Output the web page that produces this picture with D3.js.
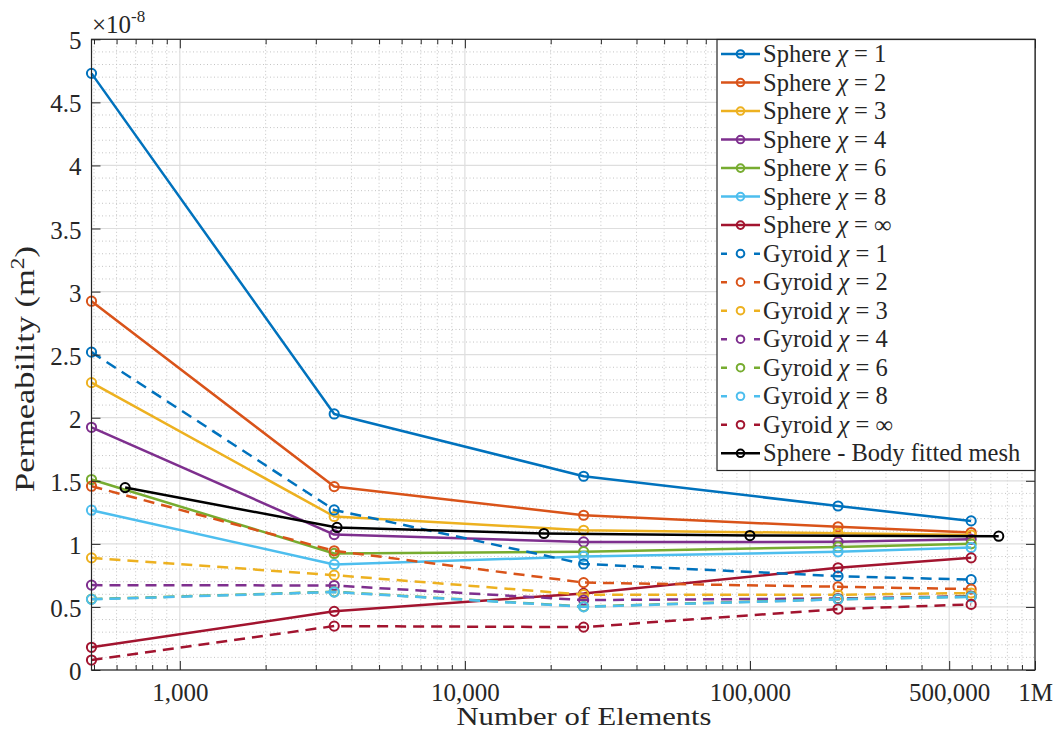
<!DOCTYPE html>
<html>
<head>
<meta charset="utf-8">
<script src="https://cdn.jsdelivr.net/npm/d3@7"></script>
<style>
  html, body { margin: 0; padding: 0; background: #fff; }
  svg { display: block; }
  svg text { font-family: "Liberation Serif", "Times New Roman", serif; }
</style>
</head>
<body>
<svg id="chart" width="1058" height="731"></svg>
<script>
// Mesh sizes (number of elements) for the immersed runs and the body-fitted run
const elementsImmersed = [490, 3480, 26100, 203700, 597000];
const elementsBodyFitted = [643, 3560, 18940, 100000, 746000];

// Permeability values (×1e-8 m²)
const sphereChi1   = [4.73, 2.03, 1.536, 1.30, 1.182];
const sphereChi2   = [2.924, 1.454, 1.227, 1.135, 1.09];
const sphereChi3   = [2.278, 1.217, 1.108, 1.084, 1.07];
const sphereChi4   = [1.924, 1.074, 1.015, 1.016, 1.036];
const sphereChi6   = [1.51, 0.924, 0.938, 0.976, 1.0];
const sphereChi8   = [1.267, 0.837, 0.9, 0.937, 0.971];
const sphereChiInf = [0.18, 0.465, 0.607, 0.81, 0.889];
const gyroidChi1   = [2.52, 1.269, 0.841, 0.744, 0.716];
const gyroidChi2   = [1.457, 0.945, 0.693, 0.66, 0.641];
const gyroidChi3   = [0.889, 0.752, 0.597, 0.596, 0.61];
const gyroidChi4   = [0.673, 0.67, 0.554, 0.567, 0.585];
const gyroidChi6   = [0.562, 0.62, 0.503, 0.562, 0.582];
const gyroidChi8   = [0.56, 0.618, 0.501, 0.56, 0.58];
const gyroidChiInf = [0.079, 0.348, 0.34, 0.483, 0.52];
const sphereBodyFitted = [1.446, 1.13, 1.082, 1.066, 1.061];

// Legend labels: [prefix, chi value]
const seriesNames = [
  ["Sphere", "1"], ["Sphere", "2"], ["Sphere", "3"], ["Sphere", "4"],
  ["Sphere", "6"], ["Sphere", "8"], ["Sphere", "∞"],
  ["Gyroid", "1"], ["Gyroid", "2"], ["Gyroid", "3"], ["Gyroid", "4"],
  ["Gyroid", "6"], ["Gyroid", "8"], ["Gyroid", "∞"],
  ["Sphere - Body fitted mesh", null]
];

// Tick values and labels
const xTickValues = [1000, 10000, 100000, 500000, 1000000];
const xTickLabels = ["1,000", "10,000", "100,000", "500,000", "1M"];
const yTickValues = [0, 0.5, 1, 1.5, 2, 2.5, 3, 3.5, 4, 4.5, 5];

const palette = ["#0072BD", "#D95319", "#EDB120", "#7E2F8E", "#77AC30", "#4DBEEE", "#A2142F"];
const FONT = "'Liberation Serif', 'Times New Roman', serif";

const seriesValues = [
  sphereChi1, sphereChi2, sphereChi3, sphereChi4, sphereChi6, sphereChi8, sphereChiInf,
  gyroidChi1, gyroidChi2, gyroidChi3, gyroidChi4, gyroidChi6, gyroidChi8, gyroidChiInf,
  sphereBodyFitted
];

const series = seriesValues.map((vals, i) => {
  const body = i === 14;
  const xs = body ? elementsBodyFitted : elementsImmersed;
  return {
    name: seriesNames[i],
    color: body ? "#000000" : palette[i % 7],
    dashed: i >= 7 && i < 14,
    points: vals.map((v, j) => ({ x: xs[j], y: v }))
  };
});

const svg = d3.select("#chart");
const plot = { left: 91.5, top: 39.3, right: 1035, bottom: 670 };

const x = d3.scaleLog().domain([490, 1e6]).range([plot.left, plot.right]);
const y = d3.scaleLinear().domain([0, 5]).range([plot.bottom, plot.top]);

// Minor gridline positions
const xMinor = [];
for (let k = 2; k <= 5; k++) {
  for (let m = 2; m <= 9; m++) {
    const v = m * Math.pow(10, k);
    if (v >= 490 && v <= 1e6 && v !== 500000) xMinor.push(v);
  }
}
const yMinor = d3.range(1, 50).map(i => i / 10).filter(v => Math.abs(v * 2 - Math.round(v * 2)) > 1e-6);

const grid = svg.append("g");
grid.selectAll("line.ymin").data(yMinor).join("line")
  .attr("x1", plot.left).attr("x2", plot.right)
  .attr("y1", d => y(d)).attr("y2", d => y(d))
  .attr("stroke", "#c4c4c4").attr("stroke-width", 1).attr("stroke-dasharray", "1,2.5");
grid.selectAll("line.xmin").data(xMinor).join("line")
  .attr("x1", d => x(d)).attr("x2", d => x(d))
  .attr("y1", plot.top).attr("y2", plot.bottom)
  .attr("stroke", "#c4c4c4").attr("stroke-width", 1).attr("stroke-dasharray", "1,2.5");
grid.selectAll("line.ymaj").data(yTickValues).join("line")
  .attr("x1", plot.left).attr("x2", plot.right)
  .attr("y1", d => y(d)).attr("y2", d => y(d))
  .attr("stroke", "#dedede").attr("stroke-width", 1.2);
grid.selectAll("line.xmaj").data(xTickValues).join("line")
  .attr("x1", d => x(d)).attr("x2", d => x(d))
  .attr("y1", plot.top).attr("y2", plot.bottom)
  .attr("stroke", "#dedede").attr("stroke-width", 1.2);

// Data lines and markers
const line = d3.line().x(d => x(d.x)).y(d => y(d.y));
const marks = svg.append("g");
series.forEach(s => {
  const g = marks.append("g");
  g.append("path").datum(s.points)
    .attr("d", line)
    .attr("fill", "none")
    .attr("stroke", s.color)
    .attr("stroke-width", 2.5)
    .attr("stroke-linejoin", "round")
    .attr("stroke-dasharray", s.dashed ? "11,7" : null);
  g.selectAll("circle").data(s.points).join("circle")
    .attr("cx", d => x(d.x)).attr("cy", d => y(d.y))
    .attr("r", 4.6)
    .attr("fill", "none")
    .attr("stroke", s.color)
    .attr("stroke-width", 2);
});

// Axes (ticks point inward, box on all four sides)
const axisColor = "#262626";
function styleAxis(g) {
  g.attr("font-family", FONT);
  g.select(".domain").remove();
  g.selectAll(".tick line").attr("stroke", axisColor).attr("stroke-width", 1);
  g.selectAll(".tick text").attr("fill", axisColor).attr("font-size", 25)
    .style("font-family", FONT);
}

svg.append("g").attr("transform", `translate(0,${plot.bottom})`)
  .call(d3.axisBottom(x).tickValues(xTickValues).tickFormat((d, i) => xTickLabels[i])
    .tickSizeInner(-9).tickSizeOuter(0).tickPadding(13))
  .call(styleAxis);
svg.append("g").attr("transform", `translate(0,${plot.bottom})`)
  .call(d3.axisBottom(x).tickValues(xMinor).tickFormat("").tickSizeInner(-5).tickSizeOuter(0))
  .call(styleAxis);
svg.append("g").attr("transform", `translate(0,${plot.top})`)
  .call(d3.axisTop(x).tickValues(xTickValues).tickFormat("").tickSizeInner(-9).tickSizeOuter(0))
  .call(styleAxis);
svg.append("g").attr("transform", `translate(0,${plot.top})`)
  .call(d3.axisTop(x).tickValues(xMinor).tickFormat("").tickSizeInner(-5).tickSizeOuter(0))
  .call(styleAxis);
svg.append("g").attr("transform", `translate(${plot.left},0)`)
  .call(d3.axisLeft(y).tickValues(yTickValues).tickFormat(d3.format("~g"))
    .tickSizeInner(-9).tickSizeOuter(0).tickPadding(10))
  .call(styleAxis)
  .call(g => g.selectAll(".tick text").attr("dy", "0.38em"));
svg.append("g").attr("transform", `translate(${plot.right},0)`)
  .call(d3.axisRight(y).tickValues(yTickValues).tickFormat("").tickSizeInner(-9).tickSizeOuter(0))
  .call(styleAxis);

svg.append("rect")
  .attr("x", plot.left).attr("y", plot.top)
  .attr("width", plot.right - plot.left).attr("height", plot.bottom - plot.top)
  .attr("fill", "none").attr("stroke", axisColor).attr("stroke-width", 1.2);

// Exponent multiplier
const expo = svg.append("text").attr("x", 92).attr("y", 33)
  .attr("fill", axisColor).attr("font-size", 25);
expo.append("tspan").text("×10");
expo.append("tspan").attr("dy", -11).attr("font-size", 17).text("-8");

// Axis labels
svg.append("text")
  .attr("x", 584).attr("y", 725)
  .attr("text-anchor", "middle")
  .attr("fill", axisColor)
  .attr("font-size", 25)
  .attr("textLength", 255).attr("lengthAdjust", "spacingAndGlyphs")
  .text("Number of Elements");

const yl = svg.append("text")
  .attr("transform", "translate(34,369) rotate(-90)")
  .attr("text-anchor", "middle")
  .attr("fill", axisColor)
  .attr("font-size", 28)
  .attr("textLength", 246).attr("lengthAdjust", "spacingAndGlyphs");
yl.append("tspan").text("Permeability (m");
yl.append("tspan").attr("dy", -10).attr("font-size", 19).text("2");
yl.append("tspan").attr("dy", 10).text(")");

// Legend
const legend = svg.append("g").attr("transform", "translate(717,39.5)");
legend.append("rect")
  .attr("width", 318).attr("height", 431)
  .attr("fill", "#fff").attr("stroke", axisColor).attr("stroke-width", 1.2);
const rows = legend.selectAll("g.row").data(series).join("g")
  .attr("transform", (d, i) => `translate(0,${14.5 + i * 28.52})`);
rows.append("line")
  .attr("x1", 4).attr("x2", 43).attr("y1", 0).attr("y2", 0)
  .attr("stroke", d => d.color).attr("stroke-width", 2.5)
  .attr("stroke-dasharray", d => d.dashed ? "6,27" : null);
rows.append("circle")
  .attr("cx", 23.5).attr("cy", 0).attr("r", 3.8)
  .attr("fill", "none").attr("stroke", d => d.color).attr("stroke-width", 2);
const labels = rows.append("text")
  .attr("x", 46).attr("y", 8)
  .attr("fill", axisColor)
  .attr("font-size", 24.5);
labels.each(function(d) {
  const t = d3.select(this);
  const [prefix, chi] = d.name;
  if (chi === null) { t.text(prefix); return; }
  t.append("tspan").text(prefix + " ");
  t.append("tspan").attr("font-style", "italic").text("χ");
  t.append("tspan").text(" = " + chi);
});
</script>
</body>
</html>
